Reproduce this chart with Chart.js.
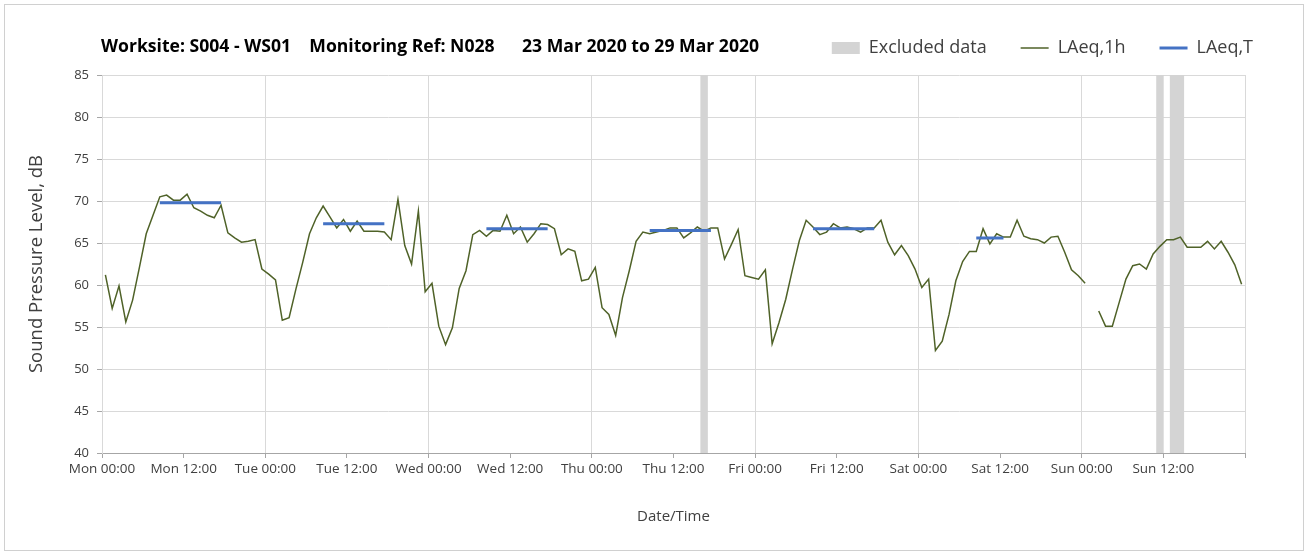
<!DOCTYPE html>
<html>
<head>
<meta charset="utf-8">
<title>Noise monitoring</title>
<script src="https://cdn.jsdelivr.net/npm/chart.js@4"></script>
<style>
  html, body { margin: 0; padding: 0; background: #fff; }
  #wrap { position: relative; width: 1309px; height: 556px; }
  #frame { position: absolute; left: 4px; top: 4px; width: 1300px; height: 547px; border: 1px solid #d0d0d0; box-sizing: border-box; }
  #heading { position: absolute; left: 101px; top: 33px; font: bold 17.6px "Open Sans", sans-serif; color: #000; white-space: pre; }
  #chart { position: absolute; left: 0; top: 0; }
</style>
</head>
<body>
<div id="wrap">
  <div id="frame"></div>
  <canvas id="chart" width="1309" height="556"></canvas>
  <div id="heading">Worksite: S004 - WS01    Monitoring Ref: N028      23 Mar 2020 to 29 Mar 2020</div>
</div>
<script>
// hourly LAeq,1h from Mon 00:00, one value per hour (null = no data)
const laeq1h = [
    61.2, 57.2, 59.9, 55.6, 58.2, 62.1, 66.1, 68.3, 70.5, 70.7, 70.1, 70.1,
    70.8, 69.2, 68.8, 68.3, 68.0, 69.5, 66.2, 65.6, 65.1, 65.2, 65.4, 61.9,
    61.3, 60.6, 55.8, 56.1, 59.5, 62.7, 66.1, 68.0, 69.4, 68.1, 66.8, 67.8,
    66.4, 67.6, 66.4, 66.4, 66.4, 66.3, 65.4, 70.2, 64.7, 62.5, 68.8, 59.2,
    60.2, 55.1, 52.9, 54.9, 59.6, 61.7, 66.0, 66.5, 65.8, 66.5, 66.4, 68.3,
    66.1, 66.9, 65.1, 66.1, 67.3, 67.2, 66.7, 63.6, 64.3, 64.0, 60.5, 60.7,
    62.1, 57.3, 56.5, 54.0, 58.5, 61.7, 65.2, 66.3, 66.1, 66.3, 66.5, 66.8,
    66.8, 65.6, 66.2, 66.9, 66.4, 66.8, 66.8, 63.1, 64.8, 66.6, 61.1, 60.9,
    60.7, 61.8, 53.0, 55.5, 58.3, 61.9, 65.3, 67.7, 66.9, 66.0, 66.3, 67.3,
    66.8, 66.9, 66.7, 66.3, 66.8, 66.8, 67.7, 65.1, 63.6, 64.7, 63.5, 61.9,
    59.7, 60.7, 52.2, 53.3, 56.5, 60.5, 62.8, 64.0, 64.0, 66.7, 64.9, 66.1,
    65.7, 65.7, 67.7, 65.8, 65.5, 65.4, 65.0, 65.7, 65.8, 63.9, 61.8, 61.1,
    60.2, null, 56.9, 55.1, 55.1, 57.9, 60.7, 62.3, 62.5, 61.9, 63.7, 64.6,
    65.4, 65.4, 65.7, 64.5, 64.5, 64.5, 65.2, 64.3, 65.2, 63.9, 62.4, 60.1
];

// LAeq,T over each assessment period (first and last hour index)
const periodStart = [8, 32, 56, 80, 104, 128];
const periodEnd = [17, 41, 65, 89, 113, 132];
const laeqT = [69.8, 67.3, 66.7, 66.5, 66.7, 65.6];

// hours flagged as excluded
const excludedHours = [88, 155, 157, 158];

const dayNames = ['Mon', 'Tue', 'Wed', 'Thu', 'Fri', 'Sat', 'Sun'];
const yMin = 40;
const yMax = 85;

const hourlyPoints = laeq1h.map((v, i) => ({ x: i + 0.5, y: v }));

const periodPoints = [];
laeqT.forEach((v, k) => {
    periodPoints.push({ x: periodStart[k] + 0.5, y: v });
    periodPoints.push({ x: periodEnd[k] + 0.5, y: v });
    periodPoints.push({ x: periodEnd[k] + 1, y: null });
});

const excludedBars = excludedHours.map(h => ({ x: h + 0.5, y: [yMin, yMax] }));

const FONT = '"Open Sans", Lato, sans-serif';
const TEXT = '#404040';

new Chart(document.getElementById('chart'), {
    type: 'line',
    data: {
        datasets: [{
            type: 'bar',
            label: 'Excluded data',
            data: excludedBars,
            backgroundColor: '#d4d4d4',
            borderWidth: 0,
            barPercentage: 1,
            categoryPercentage: 1,
            pointStyle: 'rect',
            order: 3
        }, {
            label: 'LAeq,1h',
            data: hourlyPoints,
            borderColor: '#4f6228',
            borderWidth: 1.5,
            pointRadius: 0,
            pointStyle: 'line',
            spanGaps: false,
            tension: 0,
            order: 2
        }, {
            label: 'LAeq,T',
            data: periodPoints,
            borderColor: '#4472c4',
            borderWidth: 3,
            pointRadius: 0,
            pointStyle: 'line',
            spanGaps: false,
            order: 1
        }]
    },
    options: {
        responsive: false,
        animation: false,
        layout: { padding: { left: 20, right: 22, top: 5, bottom: 10 } },
        plugins: {
            tooltip: { enabled: false },
            legend: {
                position: 'top',
                align: 'end',
                labels: {
                    usePointStyle: true,
                    pointStyleWidth: 28,
                    boxHeight: 12,
                    padding: 34,
                    color: TEXT,
                    font: { family: FONT, size: 18 },
                    sort: (a, b) => a.datasetIndex - b.datasetIndex
                }
            }
        },
        scales: {
            x: {
                type: 'linear',
                min: 0,
                max: 168,
                offset: false,
                ticks: {
                    stepSize: 12,
                    autoSkip: false,
                    maxRotation: 0,
                    padding: 3,
                    color: TEXT,
                    font: { family: FONT, size: 13.5 },
                    callback: v => v >= 168 ? '' : dayNames[Math.floor(v / 24)] + (v % 24 === 0 ? ' 00:00' : ' 12:00')
                },
                grid: {
                    offset: false,
                    color: c => (c.tick && c.tick.value % 24 === 0) ? '#d9d9d9' : 'rgba(0,0,0,0)',
                    tickColor: '#a6a6a6',
                    tickLength: 5
                },
                border: { color: '#a6a6a6' },
                title: {
                    display: true,
                    text: 'Date/Time',
                    color: TEXT,
                    font: { family: FONT, size: 15 },
                    padding: { top: 0, bottom: 20 }
                },
                afterFit: s => { s.height = 93; }
            },
            xTop: {
                type: 'linear',
                position: 'top',
                grid: { display: false },
                ticks: { display: false },
                border: { display: false },
                afterFit: s => { s.height = 8; }
            },
            y: {
                min: yMin,
                max: yMax,
                ticks: {
                    stepSize: 5,
                    padding: 8,
                    color: TEXT,
                    font: { family: FONT, size: 13 }
                },
                grid: { color: '#d9d9d9', tickColor: '#a6a6a6', tickLength: 5 },
                border: { color: '#d9d9d9' },
                title: {
                    display: true,
                    text: 'Sound Pressure Level, dB',
                    color: TEXT,
                    font: { family: FONT, size: 18.5 },
                    padding: { top: 6, bottom: 0 }
                },
                afterFit: s => { s.width = 82; }
            },
            yRight: {
                position: 'right',
                grid: { display: false },
                ticks: { display: false },
                border: { display: false },
                afterFit: s => { s.width = 42; }
            }
        }
    }
});
</script>
</body>
</html>
